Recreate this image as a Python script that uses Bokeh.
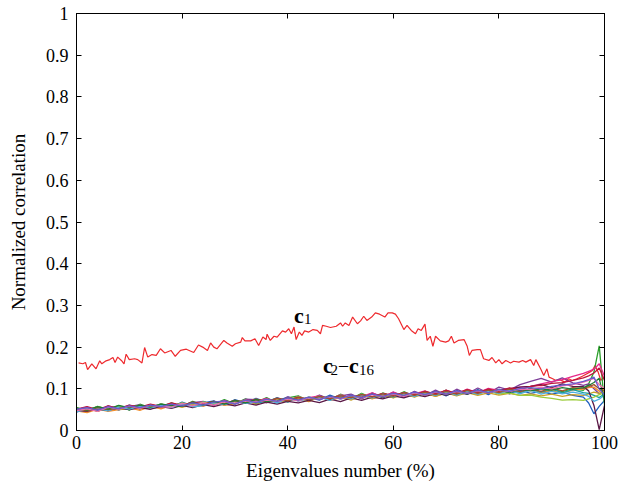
from bokeh.plotting import figure
from bokeh.models import Range1d, LinearAxis, FixedTicker
from bokeh.core.properties import value
from bokeh.embed import file_html
from bokeh.resources import INLINE

# ---- data ----
c1_x = [0.4,1.2,1.7,2.1,2.9,3.7,4.4,4.8,5.6,6.3,
        6.9,7.3,7.8,8.5,9.0,9.4,10.0,11.0,11.6,12.4,
        12.9,13.5,14.3,15.1,15.9,16.7,17.9,18.7,19.7,20.8,
        22.2,23.1,23.9,24.8,25.4,26.0,26.6,27.9,28.5,29.5,
        30.1,31.1,31.4,31.9,33.0,33.8,34.5,35.3,35.9,36.1,
        36.7,37.4,38.0,39.0,39.6,40.2,40.7,41.2,41.6,42.2,
        42.7,43.2,44.0,44.8,45.6,46.2,46.6,47.3,48.1,49.2,
        50.0,50.4,50.9,51.6,52.3,53.2,53.8,54.4,55.0,55.9,
        56.6,57.4,58.4,59.0,59.8,60.4,61.0,62.0,62.6,63.4,
        64.2,64.7,65.3,66.0,66.4,67.0,67.5,68.0,68.9,69.9,
        70.5,71.0,71.5,72.3,73.4,74.0,74.4,74.9,75.9,76.5,
        77.1,78.1,78.7,79.4,80.0,80.6,81.3,82.2,82.8,83.8,
        84.5,85.1,86.0,86.6,87.0,87.9,88.5,89.1,89.5,90.2,
        90.8,91.5,92.5,93.2,93.9,94.8,95.8,96.5,97.2,97.7,
        98.2,98.8,99.3,100]
c1_y = [0.162,0.160,0.163,0.146,0.160,0.148,0.167,0.160,0.167,0.170,
        0.175,0.163,0.176,0.168,0.160,0.183,0.170,0.172,0.170,0.162,
        0.199,0.176,0.182,0.180,0.196,0.186,0.192,0.178,0.192,0.195,
        0.187,0.205,0.200,0.192,0.210,0.200,0.196,0.216,0.210,0.202,
        0.208,0.212,0.223,0.215,0.215,0.220,0.204,0.224,0.218,0.231,
        0.216,0.226,0.224,0.239,0.236,0.244,0.232,0.248,0.218,0.236,
        0.228,0.239,0.236,0.242,0.240,0.232,0.252,0.250,0.247,0.250,
        0.258,0.250,0.258,0.252,0.272,0.256,0.263,0.274,0.264,0.272,
        0.282,0.279,0.272,0.282,0.282,0.279,0.268,0.242,0.252,0.240,
        0.232,0.244,0.240,0.255,0.216,0.226,0.202,0.226,0.215,0.212,
        0.215,0.226,0.210,0.216,0.218,0.202,0.180,0.192,0.194,0.194,
        0.172,0.168,0.175,0.162,0.170,0.160,0.168,0.162,0.166,0.164,
        0.168,0.164,0.170,0.156,0.170,0.148,0.132,0.148,0.128,0.124,
        0.120,0.122,0.116,0.124,0.120,0.124,0.130,0.135,0.140,0.144,
        0.156,0.140,0.120,0.130]

bundle_x = [0,2,4,6,8,10,12,14,16,18,20,22,24,26,28,30,32,34,36,38,40,42,44,46,48,
            50,52,54,56,58,60,62,64,66,68,70,72,74,76,78,80,82,84,86,88,90,92,94,96,
            97,98,99,100]

c2 = [0.044,0.053,0.047,0.058,0.049,0.061,0.052,0.055,0.064,0.056,
      0.068,0.059,0.066,0.071,0.061,0.074,0.066,0.077,0.068,0.070,
      0.081,0.071,0.079,0.073,0.085,0.075,0.083,0.077,0.089,0.078,
      0.091,0.080,0.092,0.084,0.095,0.083,0.096,0.087,0.098,0.086,
      0.099,0.088,0.097,0.089,0.094,0.087,0.092,0.084,0.080,0.066,0.040,0.058,0.072]
c3 = [0.055,0.047,0.058,0.050,0.060,0.049,0.063,0.054,0.057,0.066,
      0.058,0.070,0.061,0.063,0.074,0.064,0.076,0.067,0.079,0.066,
      0.078,0.083,0.070,0.084,0.074,0.087,0.076,0.089,0.078,0.090,
      0.081,0.093,0.082,0.094,0.085,0.097,0.084,0.098,0.088,0.099,
      0.089,0.101,0.090,0.102,0.091,0.098,0.093,0.100,0.096,0.112,0.140,0.203,0.062]
c4 = [0.050,0.056,0.046,0.059,0.052,0.057,0.062,0.051,0.063,0.057,
      0.061,0.067,0.070,0.060,0.072,0.064,0.075,0.074,0.066,0.079,
      0.070,0.082,0.073,0.085,0.075,0.083,0.087,0.076,0.090,0.080,
      0.092,0.081,0.094,0.084,0.097,0.085,0.099,0.088,0.102,0.090,
      0.104,0.097,0.110,0.118,0.125,0.116,0.126,0.114,0.108,0.112,0.100,0.088,0.096]
c5 = [0.047,0.043,0.051,0.046,0.050,0.055,0.048,0.058,0.052,0.060,
      0.056,0.061,0.058,0.068,0.060,0.064,0.072,0.063,0.074,0.068,
      0.071,0.077,0.069,0.081,0.072,0.079,0.075,0.086,0.076,0.084,
      0.079,0.089,0.081,0.092,0.082,0.090,0.084,0.095,0.086,0.097,
      0.088,0.096,0.090,0.098,0.091,0.095,0.090,0.097,0.099,0.103,0.104,0.094,0.100]
c6 = [0.052,0.049,0.056,0.050,0.058,0.053,0.054,0.062,0.055,0.065,
      0.059,0.062,0.069,0.061,0.071,0.064,0.073,0.070,0.077,0.067,
      0.080,0.072,0.079,0.083,0.074,0.086,0.078,0.081,0.090,0.080,
      0.092,0.083,0.088,0.095,0.084,0.097,0.088,0.099,0.090,0.101,
      0.096,0.100,0.104,0.106,0.112,0.117,0.122,0.130,0.137,0.142,0.147,0.160,0.130]
c7 = [0.049,0.053,0.046,0.055,0.050,0.052,0.059,0.053,0.057,0.063,
      0.056,0.066,0.060,0.069,0.063,0.066,0.073,0.064,0.075,0.069,
      0.072,0.079,0.071,0.080,0.074,0.082,0.073,0.084,0.077,0.086,
      0.078,0.088,0.080,0.089,0.082,0.090,0.083,0.091,0.084,0.090,
      0.085,0.089,0.084,0.088,0.083,0.087,0.082,0.086,0.084,0.088,0.092,0.089,0.095]
c8 = [0.046,0.054,0.049,0.051,0.057,0.050,0.060,0.055,0.062,0.057,
      0.066,0.058,0.069,0.062,0.070,0.064,0.072,0.066,0.069,0.078,
      0.068,0.080,0.072,0.082,0.073,0.085,0.077,0.087,0.079,0.088,
      0.080,0.091,0.083,0.093,0.085,0.094,0.086,0.096,0.088,0.098,
      0.090,0.099,0.091,0.100,0.092,0.101,0.090,0.098,0.091,0.089,0.084,0.079,0.088]
c9 = [0.053,0.048,0.057,0.051,0.059,0.054,0.061,0.053,0.064,0.058,
      0.066,0.061,0.068,0.065,0.063,0.072,0.066,0.075,0.069,0.076,
      0.072,0.081,0.074,0.082,0.076,0.085,0.077,0.087,0.080,0.088,
      0.083,0.089,0.084,0.092,0.086,0.093,0.088,0.094,0.089,0.095,
      0.088,0.090,0.084,0.085,0.080,0.077,0.073,0.074,0.072,0.076,0.080,0.086,0.090]
c10 = [0.048,0.046,0.052,0.048,0.054,0.050,0.055,0.051,0.057,0.053,
       0.060,0.055,0.062,0.057,0.064,0.059,0.066,0.061,0.068,0.063,
       0.070,0.066,0.072,0.067,0.075,0.069,0.078,0.072,0.080,0.076,
       0.083,0.078,0.086,0.081,0.089,0.085,0.091,0.087,0.094,0.090,
       0.097,0.100,0.104,0.106,0.110,0.103,0.112,0.106,0.105,0.095,0.060,0.002,0.060]
c11 = [0.051,0.057,0.050,0.059,0.053,0.061,0.056,0.063,0.058,0.066,
       0.060,0.068,0.063,0.070,0.065,0.072,0.067,0.075,0.069,0.077,
       0.072,0.080,0.074,0.081,0.077,0.084,0.079,0.086,0.081,0.089,
       0.084,0.091,0.086,0.094,0.088,0.096,0.089,0.098,0.091,0.099,
       0.094,0.102,0.098,0.106,0.108,0.113,0.115,0.120,0.126,0.131,0.138,0.150,0.120]
c12 = [0.045,0.050,0.053,0.047,0.056,0.051,0.058,0.054,0.060,0.055,
       0.064,0.057,0.060,0.067,0.062,0.070,0.065,0.068,0.074,0.066,
       0.077,0.071,0.076,0.080,0.072,0.083,0.076,0.085,0.078,0.087,
       0.081,0.089,0.082,0.091,0.084,0.093,0.085,0.094,0.087,0.095,
       0.089,0.096,0.088,0.097,0.087,0.094,0.088,0.092,0.087,0.082,0.070,0.075,0.085]
c13 = [0.052,0.047,0.055,0.050,0.053,0.058,0.052,0.061,0.056,0.063,
       0.059,0.067,0.062,0.070,0.064,0.071,0.067,0.074,0.069,0.077,
       0.071,0.079,0.074,0.081,0.076,0.083,0.078,0.086,0.080,0.088,
       0.082,0.090,0.084,0.092,0.086,0.094,0.087,0.096,0.089,0.097,
       0.091,0.099,0.093,0.100,0.094,0.102,0.095,0.103,0.101,0.105,0.110,0.100,0.095]
c14 = [0.054,0.049,0.057,0.051,0.060,0.054,0.061,0.056,0.063,0.060,
       0.058,0.067,0.061,0.069,0.063,0.072,0.066,0.074,0.069,0.071,
       0.078,0.072,0.080,0.075,0.082,0.077,0.084,0.079,0.087,0.080,
       0.089,0.083,0.090,0.085,0.093,0.086,0.094,0.088,0.096,0.090,
       0.098,0.091,0.099,0.095,0.100,0.097,0.103,0.099,0.103,0.108,0.115,0.125,0.070]
c15 = [0.048,0.052,0.046,0.056,0.051,0.058,0.053,0.060,0.057,0.056,
       0.065,0.059,0.067,0.061,0.069,0.065,0.071,0.068,0.073,0.070,
       0.076,0.071,0.079,0.075,0.081,0.076,0.084,0.078,0.086,0.081,
       0.088,0.082,0.090,0.085,0.092,0.087,0.093,0.089,0.095,0.090,
       0.097,0.093,0.099,0.098,0.104,0.100,0.107,0.110,0.116,0.120,0.125,0.110,0.100]
c16 = [0.051,0.055,0.049,0.057,0.052,0.059,0.055,0.061,0.057,0.063,
       0.059,0.066,0.061,0.068,0.071,0.063,0.073,0.067,0.075,0.070,
       0.078,0.073,0.080,0.074,0.082,0.077,0.085,0.079,0.087,0.082,
       0.089,0.084,0.092,0.086,0.093,0.087,0.095,0.089,0.096,0.091,
       0.098,0.094,0.101,0.103,0.100,0.106,0.109,0.112,0.118,0.122,0.128,0.100,0.085]

bundle = [c2, c3, c4, c5, c6, c7, c8, c9, c10, c11, c12, c13, c14, c15, c16]
bundle_colors = ["#1f5fbf", "#2ca02c", "#7d3c98", "#f28e2b", "#e7298a", "#c8a02a",
                 "#17a2a2", "#9ccc3c", "#5a1846", "#c0143c", "#4fb0e0", "#a0522d",
                 "#1e7b34", "#f06eaa", "#6a5acd"]

x_ticks = [0, 20, 40, 60, 80, 100]
y_ticks = [0, 0.1, 0.2, 0.3, 0.4, 0.5, 0.6, 0.7, 0.8, 0.9, 1]
y_tick_labels = ["0", "0.1", "0.2", "0.3", "0.4", "0.5", "0.6", "0.7", "0.8", "0.9", "1"]

FONT = "Liberation Serif"

p = figure(width=620, height=494, output_backend="svg", toolbar_location=None,
           x_range=Range1d(0, 100), y_range=Range1d(0, 1),
           min_border_left=76, min_border_right=16, min_border_top=13, min_border_bottom=64)
p.xgrid.visible = False
p.ygrid.visible = False
p.outline_line_color = "black"
p.background_fill_color = "white"
p.border_fill_color = "white"

p.line(c1_x, c1_y, line_color="#ee2a2e", line_width=1.2)
for ys, col in zip(bundle, bundle_colors):
    p.line(bundle_x, ys, line_color=col, line_width=1.3)

def style_axis(ax, ticks):
    ax.ticker = FixedTicker(ticks=ticks)
    ax.major_tick_in = 5
    ax.major_tick_out = 0
    ax.minor_tick_line_color = None
    ax.axis_line_color = "black"
    ax.major_tick_line_color = "black"
    ax.major_label_text_font = FONT
    ax.major_label_text_font_size = "18px"
    ax.major_label_text_color = "black"
    ax.axis_label_text_font = FONT
    ax.axis_label_text_font_size = "19px"
    ax.axis_label_text_font_style = "normal"
    ax.axis_label_text_color = "black"

style_axis(p.xaxis[0], x_ticks)
style_axis(p.yaxis[0], y_ticks)
p.xaxis[0].axis_label = "Eigenvalues number (%)"
p.yaxis[0].axis_label = "Normalized correlation"
p.xaxis[0].major_label_standoff = 5
p.yaxis[0].major_label_standoff = 8
p.xaxis[0].axis_label_standoff = 8
p.yaxis[0].axis_label_standoff = 14
p.yaxis[0].major_label_overrides = {t: s for t, s in zip(y_ticks, y_tick_labels)}

top = LinearAxis()
right = LinearAxis()
style_axis(top, x_ticks)
style_axis(right, y_ticks)
for ax in (top, right):
    ax.major_label_text_color = None
    ax.major_label_text_font_size = "1px"
    ax.major_label_standoff = 0
p.add_layout(top, "above")
p.add_layout(right, "right")

# annotations
def label(x, y, s, size, bold):
    p.text(x=[x], y=[y], text=[s], text_font=value(FONT),
           text_font_style="bold" if bold else "normal",
           text_font_size=size, text_color="black", text_baseline="alphabetic")

label(41.2, 0.276, "c", "22px", True)
label(43.1, 0.268, "1", "15px", False)
label(46.7, 0.156, "c", "22px", True)
label(48.1, 0.144, "2", "15px", False)
label(49.7, 0.157, "\u2013", "18px", False)
label(51.6, 0.156, "c", "22px", True)
label(53.5, 0.144, "16", "15px", False)

open("out.html", "w").write(file_html(p, INLINE))
